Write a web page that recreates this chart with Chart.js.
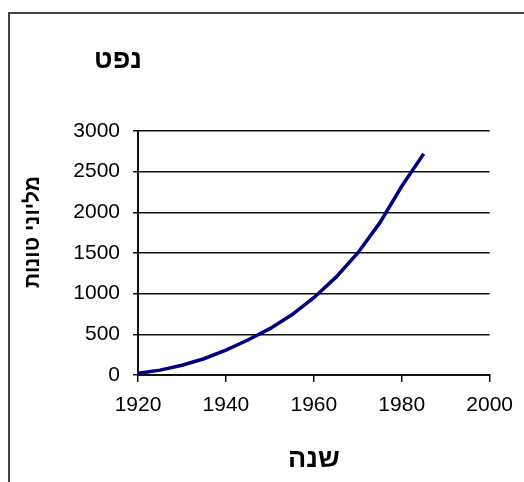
<!DOCTYPE html>
<html>
<head>
<meta charset="utf-8">
<script src="https://cdn.jsdelivr.net/npm/chart.js@4.4.0/dist/chart.umd.min.js"></script>
<style>
  html, body { margin: 0; padding: 0; background: #fff; overflow: hidden; }
  #wrap { position: relative; width: 524px; height: 482px; }
  #frame { position: absolute; left: 8px; top: 12px; width: 700px; height: 700px; border: 2px solid #444; box-sizing: border-box; }
  canvas { position: absolute; left: 0; top: 0; }
</style>
</head>
<body>
<div id="wrap">
  <div id="frame"></div>
  <canvas id="c" width="524" height="482"></canvas>
</div>
<script>
const chartTitle = 'נפט';
const yTitle = 'מליוני טונות';
const xTitle = 'שנה';
const years = [1920, 1925, 1930, 1935, 1940, 1945, 1950, 1955, 1960, 1965, 1970, 1975, 1980, 1985];
const oilProduction = [20, 60, 120, 200, 305, 430, 570, 740, 950, 1200, 1500, 1870, 2320, 2720];
const xTicks = [1920, 1940, 1960, 1980, 2000];
const yTicks = [0, 500, 1000, 1500, 2000, 2500, 3000];

const FONT = "'Liberation Sans', Arial, sans-serif";

const textPlugin = {
  id: 'textPlugin',
  afterDraw(chart) {
    const ctx = chart.ctx;
    ctx.save();
    ctx.fillStyle = '#000';
    ctx.textAlign = 'center';
    ctx.textBaseline = 'middle';
    ctx.font = 'bold 27px ' + FONT;
    ctx.fillText(chartTitle, 118, 61);
    ctx.translate(33, 232);
    ctx.rotate(-Math.PI / 2);
    ctx.font = 'bold 21px ' + FONT;
    ctx.fillText(yTitle, 0, 0);
    ctx.restore();
  }
};

new Chart(document.getElementById('c'), {
  type: 'line',
  data: {
    datasets: [{
      data: years.map((y, i) => ({ x: y, y: oilProduction[i] })),
      borderColor: '#000080',
      borderWidth: 3.5,
      pointRadius: 0,
      tension: 0,
      fill: false
    }]
  },
  options: {
    responsive: false,
    animation: false,
    devicePixelRatio: 1,
    layout: { padding: { left: 0, right: 34, top: 131, bottom: 0 } },
    plugins: { legend: { display: false }, title: { display: false }, tooltip: { enabled: false } },
    scales: {
      x: {
        type: 'linear',
        min: xTicks[0],
        max: xTicks[xTicks.length - 1],
        afterBuildTicks: (s) => { s.ticks = xTicks.map(v => ({ value: v })); },
        afterFit: (s) => { s.height = 107; },
        ticks: {
          color: '#000',
          font: { family: FONT, size: 21 },
          padding: 11,
          maxRotation: 0,
          callback: (v) => String(v)
        },
        grid: { drawOnChartArea: false, color: '#111', lineWidth: 1.5, tickLength: 7 },
        border: { color: '#111', width: 2 },
        title: {
          display: true,
          text: xTitle,
          color: '#000',
          font: { family: FONT, size: 27, weight: 'bold' },
          padding: { top: 0, bottom: 6 }
        }
      },
      y: {
        min: 0,
        max: 3000,
        afterBuildTicks: (s) => { s.ticks = yTicks.map(v => ({ value: v })); },
        afterFit: (s) => { s.width = 138; },
        ticks: {
          color: '#000',
          font: { family: FONT, size: 21 },
          padding: 13,
          callback: (v) => String(v)
        },
        grid: { color: '#111', lineWidth: 1.5, tickLength: 5 },
        border: { color: '#111', width: 2 }
      }
    }
  },
  plugins: [textPlugin]
});
</script>
</body>
</html>
